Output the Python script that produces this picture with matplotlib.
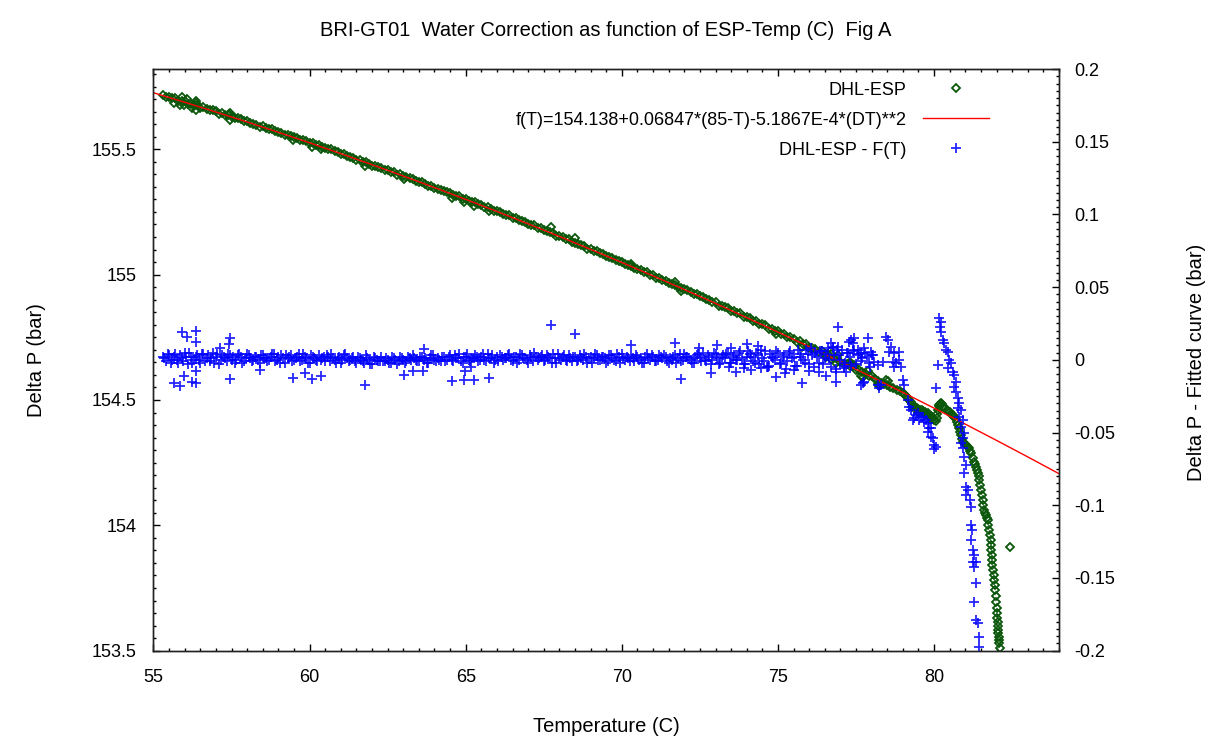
import numpy as np
import matplotlib.pyplot as plt
from matplotlib.ticker import MultipleLocator, FuncFormatter

plt.rcParams['font.family'] = ['Liberation Sans', 'DejaVu Sans']
plt.rcParams['font.size'] = 13

# temperature readings (C) of the main stretch, shared by both series
temp_main = [
    55.3, 55.4, 55.5, 55.6, 55.7, 55.8, 55.9, 56.0, 56.1, 56.2,
    56.3, 56.4, 56.5, 56.6, 56.7, 56.8, 56.9, 57.0, 57.1, 57.2,
    57.3, 57.4, 57.5, 57.6, 57.7, 57.8, 57.9, 58.0, 58.1, 58.2,
    58.3, 58.4, 58.5, 58.6, 58.7, 58.8, 58.9, 59.0, 59.1, 59.2,
    59.3, 59.4, 59.5, 59.6, 59.7, 59.8, 59.9, 60.0, 60.1, 60.2,
    60.3, 60.4, 60.5, 60.6, 60.7, 60.8, 60.9, 61.0, 61.1, 61.2,
    61.3, 61.4, 61.5, 61.6, 61.7, 61.8, 61.9, 62.0, 62.1, 62.2,
    62.3, 62.4, 62.5, 62.6, 62.7, 62.8, 62.9, 63.0, 63.1, 63.2,
    63.3, 63.4, 63.5, 63.6, 63.7, 63.8, 63.9, 64.0, 64.1, 64.2,
    64.3, 64.4, 64.5, 64.6, 64.7, 64.8, 64.9, 65.0, 65.1, 65.2,
    65.3, 65.4, 65.5, 65.6, 65.7, 65.8, 65.9, 66.0, 66.1, 66.2,
    66.3, 66.4, 66.5, 66.6, 66.7, 66.8, 66.9, 67.0, 67.1, 67.2,
    67.3, 67.4, 67.5, 67.6, 67.7, 67.8, 67.9, 68.0, 68.1, 68.2,
    68.3, 68.4, 68.5, 68.6, 68.7, 68.8, 68.9, 69.0, 69.1, 69.2,
    69.3, 69.4, 69.5, 69.6, 69.7, 69.8, 69.9, 70.0, 70.1, 70.2,
    70.3, 70.4, 70.5, 70.6, 70.7, 70.8, 70.9, 71.0, 71.1, 71.2,
    71.3, 71.4, 71.5, 71.6, 71.7, 71.8, 71.9, 72.0, 72.1, 72.2,
    72.3, 72.4, 72.5, 72.6, 72.7, 72.8, 72.9, 73.0, 73.1, 73.2,
    73.3, 73.4, 73.5, 73.6, 73.7, 73.8, 73.9, 74.0, 74.1, 74.2,
    74.3, 74.4, 74.5, 74.6, 74.7, 74.8, 74.9, 75.0, 75.1, 75.2,
    75.3, 75.4, 75.5, 75.6, 75.7, 75.8, 75.9, 76.0, 76.1, 76.2,
    76.3, 76.4, 76.5, 76.6, 76.7, 76.8, 76.9, 77.0, 77.1, 77.2,
    77.3, 77.4, 77.5, 77.6, 77.7, 77.8, 77.9, 78.0,
]

# DHL-ESP (bar) at temp_main
dp_main = [
    155.716, 155.709, 155.709, 155.703, 155.703, 155.693, 155.692, 155.692, 155.681, 155.682,
    155.676, 155.675, 155.666, 155.668, 155.661, 155.655, 155.657, 155.651, 155.642, 155.644,
    155.638, 155.637, 155.629, 155.623, 155.624, 155.619, 155.612, 155.613, 155.605, 155.600,
    155.598, 155.590, 155.591, 155.585, 155.580, 155.580, 155.571, 155.570, 155.566, 155.557,
    155.556, 155.554, 155.547, 155.544, 155.537, 155.538, 155.531, 155.524, 155.523, 155.517,
    155.516, 155.509, 155.503, 155.502, 155.499, 155.491, 155.488, 155.481, 155.481, 155.475,
    155.469, 155.467, 155.458, 155.457, 155.451, 155.450, 155.443, 155.435, 155.435, 155.428,
    155.427, 155.419, 155.416, 155.409, 155.408, 155.399, 155.400, 155.393, 155.388, 155.385,
    155.382, 155.375, 155.369, 155.368, 155.362, 155.354, 155.355, 155.347, 155.343, 155.337,
    155.335, 155.328, 155.326, 155.318, 155.315, 155.313, 155.303, 155.302, 155.295, 155.291,
    155.288, 155.280, 155.278, 155.271, 155.270, 155.262, 155.255, 155.254, 155.250, 155.242,
    155.238, 155.236, 155.226, 155.224, 155.217, 155.215, 155.208, 155.200, 155.199, 155.197,
    155.187, 155.184, 155.176, 155.175, 155.168, 155.166, 155.155, 155.153, 155.149, 155.142,
    155.140, 155.131, 155.128, 155.121, 155.117, 155.115, 155.104, 155.103, 155.096, 155.093,
    155.085, 155.082, 155.073, 155.072, 155.065, 155.058, 155.056, 155.052, 155.043, 155.039,
    155.035, 155.026, 155.024, 155.017, 155.009, 155.010, 155.000, 154.997, 154.988, 154.987,
    154.980, 154.975, 154.966, 154.962, 154.960, 154.952, 154.945, 154.944, 154.937, 154.929,
    154.922, 154.921, 154.914, 154.912, 154.901, 154.898, 154.891, 154.889, 154.876, 154.876,
    154.869, 154.867, 154.855, 154.854, 154.845, 154.846, 154.831, 154.830, 154.827, 154.816,
    154.816, 154.802, 154.801, 154.800, 154.784, 154.784, 154.777, 154.776, 154.763, 154.762,
    154.752, 154.753, 154.744, 154.732, 154.734, 154.724, 154.725, 154.709, 154.709, 154.705,
    154.692, 154.694, 154.683, 154.684, 154.665, 154.668, 154.666, 154.653, 154.643, 154.645,
    154.636, 154.634, 154.619, 154.620, 154.611, 154.609, 154.596, 154.595,
]

# DHL-ESP - F(T) (bar) at temp_main
res_main = [
    0.002, -0.001, 0.003, 0.000, 0.004, -0.002, 0.001, 0.005, -0.003, 0.002,
    0.000, 0.003, -0.002, 0.004, 0.001, -0.001, 0.005, 0.002, -0.003, 0.003,
    0.001, 0.004, 0.000, -0.002, 0.003, 0.002, -0.001, 0.004, 0.001, 0.000,
    0.002, -0.002, 0.003, 0.001, 0.000, 0.004, -0.001, 0.002, 0.003, -0.002,
    0.001, 0.003, 0.000, 0.002, -0.001, 0.004, 0.001, -0.002, 0.002, 0.000,
    0.003, 0.001, -0.001, 0.002, 0.004, 0.000, 0.001, -0.002, 0.003, 0.001,
    0.000, 0.002, -0.002, 0.001, -0.001, 0.003, 0.000, -0.003, 0.001, -0.001,
    0.002, -0.001, 0.000, -0.002, 0.001, -0.003, 0.002, 0.000, -0.001, 0.001,
    0.003, 0.000, -0.001, 0.002, 0.001, -0.002, 0.003, 0.000, 0.001, -0.001,
    0.002, 0.000, 0.003, -0.001, 0.001, 0.004, -0.002, 0.002, 0.000, 0.001,
    0.003, -0.001, 0.002, 0.000, 0.004, 0.001, -0.002, 0.002, 0.003, 0.000,
    0.001, 0.004, -0.001, 0.002, 0.000, 0.003, 0.001, -0.002, 0.002, 0.005,
    0.000, 0.002, -0.001, 0.003, 0.001, 0.004, -0.002, 0.001, 0.002, 0.000,
    0.003, -0.001, 0.002, 0.000, 0.001, 0.004, -0.002, 0.002, 0.001, 0.003,
    0.000, 0.002, -0.002, 0.003, 0.001, -0.001, 0.002, 0.004, 0.000, 0.001,
    0.003, -0.001, 0.002, 0.001, -0.002, 0.004, 0.000, 0.002, -0.001, 0.003,
    0.001, 0.002, -0.002, 0.000, 0.003, 0.001, -0.001, 0.004, 0.002, 0.000,
    -0.002, 0.003, 0.001, 0.005, -0.001, 0.002, 0.000, 0.004, -0.003, 0.002,
    0.001, 0.005, -0.002, 0.003, 0.000, 0.006, -0.003, 0.002, 0.004, -0.001,
    0.005, -0.003, 0.001, 0.006, -0.004, 0.002, 0.000, 0.005, -0.002, 0.003,
    -0.001, 0.006, 0.002, -0.004, 0.004, 0.000, 0.007, -0.003, 0.003, 0.005,
    -0.002, 0.006, 0.001, 0.008, -0.005, 0.003, 0.007, 0.000, -0.004, 0.005,
    0.002, 0.006, -0.003, 0.004, 0.001, 0.005, -0.002, 0.003,
]

# further DHL-ESP - F(T) readings between those of temp_main
temp_band2 = [
    55.35, 55.45, 55.55, 55.65, 55.75, 55.85, 55.95, 56.05, 56.15, 56.25,
    56.35, 56.45, 56.55, 56.65, 56.75, 56.85, 56.95, 57.05, 57.15, 57.25,
    57.35, 57.45, 57.55, 57.65, 57.75, 57.85, 57.95, 58.05, 58.15, 58.25,
    58.35, 58.45, 58.55, 58.65, 58.75, 58.85, 58.95, 59.05, 59.15, 59.25,
    59.35, 59.45, 59.55, 59.65, 59.75, 59.85, 59.95, 60.05, 60.15, 60.25,
    60.35, 60.45, 60.55, 60.65, 60.75, 60.85, 60.95, 61.05, 61.15, 61.25,
    61.35, 61.45, 61.55, 61.65, 61.75, 61.85, 61.95, 62.05, 62.15, 62.25,
    62.35, 62.45, 62.55, 62.65, 62.75, 62.85, 62.95, 63.05, 63.15, 63.25,
    63.35, 63.45, 63.55, 63.65, 63.75, 63.85, 63.95, 64.05, 64.15, 64.25,
    64.35, 64.45, 64.55, 64.65, 64.75, 64.85, 64.95, 65.05, 65.15, 65.25,
    65.35, 65.45, 65.55, 65.65, 65.75, 65.85, 65.95, 66.05, 66.15, 66.25,
    66.35, 66.45, 66.55, 66.65, 66.75, 66.85, 66.95, 67.05, 67.15, 67.25,
    67.35, 67.45, 67.55, 67.65, 67.75, 67.85, 67.95, 68.05, 68.15, 68.25,
    68.35, 68.45, 68.55, 68.65, 68.75, 68.85, 68.95, 69.05, 69.15, 69.25,
    69.35, 69.45, 69.55, 69.65, 69.75, 69.85, 69.95, 70.05, 70.15, 70.25,
    70.35, 70.45, 70.55, 70.65, 70.75, 70.85, 70.95, 71.05, 71.15, 71.25,
    71.35, 71.45, 71.55, 71.65, 71.75, 71.85, 71.95, 72.05, 72.15, 72.25,
    72.35, 72.45, 72.55, 72.65, 72.75, 72.85, 72.95, 73.05, 73.15, 73.25,
    73.35, 73.45, 73.55, 73.65, 73.75, 73.85, 73.95, 74.05, 74.15, 74.25,
    74.35, 74.45, 74.55, 74.65, 74.75, 74.85, 74.95, 75.05, 75.15, 75.25,
    75.35, 75.45, 75.55, 75.65, 75.75, 75.85, 75.95, 76.05, 76.15, 76.25,
    76.35, 76.45, 76.55, 76.65, 76.75, 76.85, 76.95, 77.05, 77.15, 77.25,
    77.35, 77.45, 77.55, 77.65, 77.75, 77.85, 77.95,
]
res_band2 = [
    0.001, 0.004, -0.002, 0.002, 0.000, 0.003, -0.001, 0.002, 0.005, -0.002,
    0.002, 0.000, 0.004, -0.001, 0.003, 0.001, -0.002, 0.004, 0.000, 0.002,
    -0.001, 0.003, 0.002, 0.000, 0.004, -0.002, 0.001, 0.003, -0.001, 0.002,
    0.000, 0.003, 0.001, -0.001, 0.002, 0.004, 0.000, -0.002, 0.001, 0.003,
    0.002, -0.001, 0.001, 0.004, 0.000, 0.002, -0.002, 0.003, 0.001, -0.001,
    0.000, 0.002, 0.003, -0.001, 0.001, -0.002, 0.002, 0.000, 0.004, -0.001,
    0.001, -0.001, 0.002, 0.000, -0.002, 0.001, -0.003, 0.002, 0.000, -0.001,
    -0.001, 0.001, -0.002, 0.002, 0.000, -0.001, 0.001, -0.002, 0.002, 0.000,
    0.001, -0.001, 0.002, 0.000, -0.002, 0.001, 0.003, -0.001, 0.000, 0.002,
    -0.001, 0.002, 0.000, 0.003, 0.001, -0.001, 0.002, 0.004, -0.001, 0.001,
    0.002, 0.000, 0.004, -0.001, 0.001, 0.003, 0.000, -0.001, 0.002, 0.001,
    0.003, 0.000, 0.002, -0.002, 0.004, 0.001, 0.000, 0.003, -0.001, 0.002,
    0.001, 0.003, 0.000, 0.002, -0.002, 0.001, 0.004, 0.000, 0.003, -0.001,
    0.001, 0.002, -0.001, 0.003, 0.000, 0.002, 0.001, -0.002, 0.004, 0.000,
    0.002, 0.001, -0.001, 0.003, 0.000, 0.004, -0.002, 0.001, 0.002, -0.001,
    0.001, 0.003, 0.000, -0.002, 0.002, 0.001, 0.003, -0.001, 0.000, 0.002,
    0.003, -0.001, 0.001, 0.002, -0.002, 0.004, 0.000, 0.002, 0.001, -0.002,
    0.002, 0.004, -0.001, 0.000, 0.003, -0.003, 0.005, 0.001, -0.002, 0.003,
    0.004, -0.002, 0.002, 0.000, 0.005, 0.001, -0.003, 0.006, 0.002, -0.002,
    0.003, 0.007, -0.001, -0.005, 0.004, 0.001, 0.006, -0.003, 0.002, -0.006,
    0.005, 0.001, -0.004, 0.007, 0.002, -0.002, 0.004, 0.008, -0.005, 0.002,
    0.006, -0.003, 0.004, 0.000, 0.009, -0.006, 0.003, 0.007, -0.002, 0.005,
    -0.004, 0.007, 0.003, -0.001, 0.008, 0.002, -0.005,
]

# DHL-ESP beyond 78 C and scattered readings
temp_esp_tail = [
    78.1, 78.2, 78.3, 78.4, 78.5, 78.6, 78.7, 78.8, 78.9, 79.0,
    79.05, 79.1, 79.15, 79.2, 79.25, 79.3, 79.35, 79.4, 79.45, 79.5,
    79.55, 79.6, 79.65, 79.7, 79.75, 79.8, 79.85, 79.9, 79.95, 80.0,
    80.05, 80.08, 80.1, 80.12, 80.15, 80.17, 80.2, 80.22, 80.25, 80.3,
    80.35, 80.4, 80.45, 80.5, 80.55, 80.6, 80.65, 80.7, 80.74, 80.78,
    80.81, 80.84, 80.87, 80.9, 80.92, 80.96, 81.0, 81.03, 81.08, 81.13,
    81.16, 81.19, 81.24, 81.29, 81.32, 81.35, 81.38, 81.4, 81.43, 81.45,
    81.48, 81.5, 81.53, 81.56, 81.58, 81.61, 81.64, 81.66, 81.69, 81.72,
    81.74, 81.77, 81.8, 81.83, 81.83, 81.83, 81.85, 81.86, 81.87, 81.88,
    81.91, 81.93, 81.95, 81.96, 81.98, 81.99, 82.0, 82.02, 82.03, 82.04,
    82.04, 82.04, 82.06, 82.07, 82.08, 82.09, 82.11, 82.44,
    79.3, 79.5, 79.7, 79.9,
    55.66, 55.85, 55.92, 55.99, 56.08, 56.22, 56.35, 56.35, 56.35, 57.43,
    57.45, 57.45, 59.48, 60.09, 60.37, 61.76, 63.01, 64.56, 64.94, 65.28,
    65.74, 67.72, 68.5, 70.28, 71.7, 71.89, 74.93, 75.76, 76.53, 76.7,
    76.86, 76.91, 77.28, 77.34, 77.44, 77.66, 77.71, 77.87, 78.19, 78.25,
    78.46, 78.52,
]
dp_esp_tail = [
    154.584, 154.576, 154.567, 154.564, 154.559, 154.552, 154.546, 154.541, 154.535, 154.528,
    154.522, 154.515, 154.508, 154.500, 154.491, 154.482, 154.476, 154.470, 154.467, 154.464,
    154.461, 154.459, 154.455, 154.452, 154.450, 154.447, 154.442, 154.437, 154.430, 154.422,
    154.415, 154.430, 154.445, 154.460, 154.474, 154.480, 154.485, 154.487, 154.482, 154.472,
    154.466, 154.460, 154.455, 154.452, 154.446, 154.440, 154.433, 154.424, 154.413, 154.400,
    154.387, 154.373, 154.360, 154.346, 154.334, 154.328, 154.325, 154.321, 154.314, 154.307,
    154.297, 154.287, 154.270, 154.254, 154.244, 154.234, 154.220, 154.208, 154.195, 154.181,
    154.160, 154.140, 154.120, 154.101, 154.080, 154.061, 154.050, 154.040, 154.030, 154.021,
    154.000, 153.981, 153.960, 153.942, 153.922, 153.902, 153.882, 153.862, 153.842, 153.822,
    153.800, 153.782, 153.762, 153.743, 153.720, 153.695, 153.672, 153.649, 153.632, 153.616,
    153.600, 153.583, 153.570, 153.556, 153.543, 153.530, 153.510, 153.915,
    154.470, 154.452, 154.440, 154.425,
    155.685, 155.675, 155.709, 155.677, 155.700, 155.664, 155.694, 155.686, 155.658, 155.642,
    155.645, 155.618, 155.535, 155.508, 155.499, 155.432, 155.383, 155.306, 155.289, 155.272,
    155.252, 155.190, 155.144, 155.043, 154.969, 154.934, 154.763, 154.711, 154.670, 154.682,
    154.646, 154.681, 154.648, 154.646, 154.641, 154.595, 154.593, 154.615, 154.563, 154.557,
    154.579, 154.574,
]

# DHL-ESP - F(T) scattered readings and the region above 78 C
temp_res_extra = [
    55.66, 55.85, 55.92, 55.99, 56.08, 56.22, 56.35, 56.35, 56.35, 56.35,
    57.13, 57.43, 57.45, 57.45, 58.42, 59.48, 59.86, 60.09, 60.37, 61.76,
    63.01, 63.3, 63.63, 63.65, 64.56, 64.94, 64.99, 65.18, 65.28, 65.74,
    67.72, 68.5, 70.28, 71.7, 71.89, 72.47, 72.85, 73.04, 73.42, 73.49,
    73.65, 73.92, 74.0, 74.13, 74.35, 74.45, 74.67, 74.93, 75.22, 75.5,
    75.76, 76.0, 76.32, 76.53, 76.7, 76.75, 76.86, 76.86, 76.91, 76.91,
    77.12, 77.18, 77.28, 77.34, 77.39, 77.44, 77.55, 77.66, 77.66, 77.71,
    77.76, 77.87, 77.98, 78.03, 78.08, 78.19, 78.19, 78.25, 78.3, 78.35,
    78.46, 78.52, 78.57, 78.62, 78.68, 78.73, 78.73, 78.79, 78.89, 78.89,
    78.94, 79.0, 79.05,
    79.15, 79.21, 79.26, 79.32, 79.37, 79.42, 79.48, 79.53, 79.58, 79.64,
    79.69, 79.74, 79.8, 79.8, 79.85, 79.9, 79.9, 79.96, 80.01, 80.06,
    80.01, 80.06, 80.12,
    80.17, 80.22, 80.2, 80.22, 80.28, 80.33, 80.38, 80.44, 80.49, 80.44,
    80.54, 80.6, 80.65, 80.7, 80.65, 80.7, 80.76, 80.81, 80.76, 80.87,
    80.81, 80.92, 80.87, 80.97, 80.92, 80.87, 80.92, 80.97, 81.02, 80.97,
    81.03, 81.03, 81.08, 81.14, 81.19, 81.19, 81.22, 81.19, 81.24, 81.27,
    81.24, 81.29, 81.35, 81.35, 81.29, 81.35, 81.4, 81.45, 81.45,
]
res_extra = [
    -0.0157, -0.018, 0.019, -0.011, 0.016, -0.015, 0.020, 0.0125, -0.0157, -0.008,
    0.008, 0.011, 0.0148, -0.013, -0.007, -0.0127, -0.0093, -0.0134, -0.0109, -0.0175,
    -0.0103, -0.0078, -0.0075, 0.0073, -0.0143, -0.0139, -0.0075, -0.005, -0.0139, -0.0123,
    0.024, 0.0176, 0.010, 0.0118, -0.013, 0.008, -0.0088, 0.010, -0.0047, 0.008,
    -0.0081, -0.0058, 0.0107, -0.007, 0.0097, -0.0058, -0.0047, -0.012, -0.0088, -0.007,
    -0.0157, -0.0075, -0.0082, -0.011, 0.0114, 0.008, -0.0082, -0.015, 0.0228, 0.009,
    -0.0058, -0.0082, 0.0125, 0.0137, 0.0114, 0.0148, 0.0068, 0.0045, -0.0173, -0.0161,
    -0.015, 0.0148, 0.0056, 0.0033, -0.0013, -0.0035, -0.0173, -0.0196, -0.0173, -0.0013,
    0.0159, 0.0137, 0.0056, 0.009, -0.0013, 0.0045, -0.0047, -0.0024, 0.0056, 0.0,
    -0.0047, -0.0139, -0.0173,
    -0.0276, -0.0322, -0.0345, -0.0414, -0.0402, -0.0379, -0.0368, -0.0414, -0.0391, -0.0391,
    -0.0426, -0.0414, -0.0437, -0.0494, -0.0471, -0.0471, -0.0529, -0.054, -0.0586, -0.0597,
    -0.0615, -0.0196, -0.0035,
    0.0286, 0.0262, 0.0228, 0.0194, 0.0137, 0.0114, 0.0068, 0.0056, -0.0001, -0.0058,
    -0.0024, -0.0082, -0.0104, -0.015, -0.0185, -0.022, -0.0264, -0.030, -0.0334, -0.0345,
    -0.0391, -0.0414, -0.046, -0.0505, -0.054, -0.0574, -0.0608, -0.0666, -0.0723, -0.078,
    -0.0872, -0.093, -0.0895, -0.0964, -0.101, -0.1136, -0.117, -0.1239, -0.1308, -0.1342,
    -0.1388, -0.1423, -0.1388, -0.1537, -0.1663, -0.1789, -0.1812, -0.1904, -0.1973,
]

# fitted curve f(T) as drawn
fit_temp = [55, 56, 57, 58, 59, 60, 61, 62, 63, 64, 65, 66, 67, 68, 69,
            70, 71, 72, 73, 74, 75, 76, 77, 78, 79, 80, 81, 82, 83, 84]
fit_dp = [155.7253, 155.6874, 155.6485, 155.6086, 155.5676, 155.5256, 155.4825,
          155.4384, 155.3933, 155.3471, 155.2999, 155.2517, 155.2024, 155.1521,
          155.1007, 155.0484, 154.9949, 154.9405, 154.8850, 154.8284, 154.7708,
          154.7122, 154.6526, 154.5919, 154.5302, 154.4674, 154.4036, 154.3387,
          154.2729, 154.2060]

fit_label = 'f(T)=154.138+0.06847*(85-T)-5.1867E-4*(DT)**2'

fig = plt.figure(figsize=(12.15, 7.38), dpi=100)
ax = fig.add_axes([0.1263, 0.1183, 0.7453, 0.7882])
ax2 = ax.twinx()

g, = ax.plot(temp_main + temp_esp_tail, dp_main + dp_esp_tail, ls='none', marker='D',
             ms=4.2, mfc='none', mec='#0a560a', mew=1.3, label='DHL-ESP')
r, = ax.plot(fit_temp, fit_dp, color='#ff0000', lw=1.0, label=fit_label)
b, = ax2.plot(temp_main + temp_band2 + temp_res_extra, res_main + res_band2 + res_extra,
              ls='none', marker='+', ms=7, mew=1.3, color='#0000ff', alpha=0.85,
              label='DHL-ESP - F(T)')

ax.set_xlim(55, 84)
ax.set_ylim(153.5, 155.82)
ax2.set_ylim(-0.2, 0.2)

fmt = FuncFormatter(lambda v, p: '%g' % (round(v, 4) + 0.0))
ax.xaxis.set_major_locator(MultipleLocator(5))
ax.xaxis.set_minor_locator(MultipleLocator(0.5))
ax.yaxis.set_major_locator(MultipleLocator(0.5))
ax.yaxis.set_minor_locator(MultipleLocator(0.05))
ax2.yaxis.set_major_locator(MultipleLocator(0.05))
ax2.yaxis.set_minor_locator(MultipleLocator(0.005))
ax.xaxis.set_major_formatter(fmt)
ax.yaxis.set_major_formatter(fmt)
ax2.yaxis.set_major_formatter(fmt)

ax.tick_params(axis='x', which='both', direction='in', top=True, bottom=True, pad=13)
ax.tick_params(axis='y', which='both', direction='in', left=True, right=False, pad=12)
ax2.tick_params(axis='y', which='both', direction='in', right=True, pad=11)
for a in (ax, ax2):
    a.tick_params(which='major', length=5, width=1)
    a.tick_params(which='minor', length=2.5, width=1)
    for s in a.spines.values():
        s.set_linewidth(1.0)
        s.set_color('#222222')

leg = ax2.legend([g, r, b], ['DHL-ESP', fit_label, 'DHL-ESP - F(T)'],
                 loc='upper right', bbox_to_anchor=(0.9227, 0.978), frameon=False,
                 markerfirst=False, handlelength=3.65, handletextpad=0.9,
                 labelspacing=0.72, borderpad=0, borderaxespad=0, fontsize=13)

fig.text(606 / 1215, 1 - 31 / 738, 'BRI-GT01  Water Correction as function of ESP-Temp (C)  Fig A',
         ha='center', va='center', fontsize=14.5)
fig.text(606 / 1215, 1 - 727 / 738, 'Temperature (C)', ha='center', va='center', fontsize=14.5)
fig.text(37 / 1215, 1 - 360 / 738, 'Delta P (bar)', ha='center', va='center',
         rotation=90, fontsize=14.5)
fig.text(1197 / 1215, 1 - 362 / 738, 'Delta P - Fitted curve (bar)', ha='center', va='center',
         rotation=90, fontsize=14.5)

fig.savefig('out.png', dpi=100)
